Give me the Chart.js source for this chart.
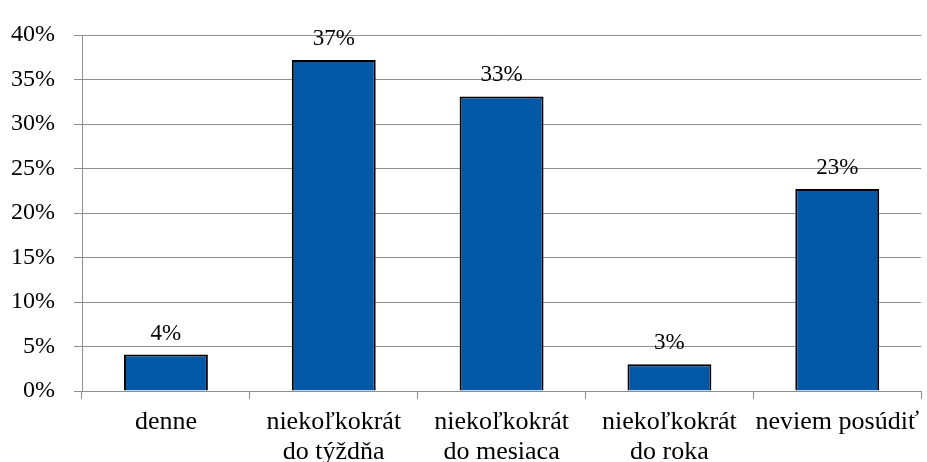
<!DOCTYPE html>
<html>
<head>
<meta charset="utf-8">
<script src="https://cdn.jsdelivr.net/npm/chart.js@4/dist/chart.umd.min.js"></script>
<style>
    html, body { margin: 0; padding: 0; background: #fff; }
    #wrap { width: 927px; height: 462px; }
</style>
</head>
<body>
<div id="wrap"><canvas id="graf" width="927" height="462"></canvas></div>
<script>
// kategorie a hodnoty (v %)
const kategorie = [
    'denne',
    ['niekoľkokrát', 'do týždňa'],
    ['niekoľkokrát', 'do mesiaca'],
    ['niekoľkokrát', 'do roka'],
    'neviem posúdiť'
];
const hodnoty = [4.1, 37.2, 33.1, 3.0, 22.7];
const popisky = ['4%', '37%', '33%', '3%', '23%'];
const osY = [0, 5, 10, 15, 20, 25, 30, 35, 40];

const pismo = "'Liberation Serif', 'Times New Roman', serif";
const siva = '#8e8e8e';

// popisky nad stlpcami
const popiskyPlugin = {
    id: 'popisky',
    afterDatasetsDraw(chart) {
        const ctx = chart.ctx;
        const meta = chart.getDatasetMeta(0);
        ctx.save();
        ctx.font = '23px ' + pismo;
        ctx.fillStyle = '#000';
        ctx.textAlign = 'center';
        ctx.textBaseline = 'alphabetic';
        meta.data.forEach((bar, i) => {
            ctx.fillText(popisky[i], bar.x, bar.y - 15);
        });
        ctx.restore();
    }
};

new Chart(document.getElementById('graf'), {
    type: 'bar',
    data: {
        labels: kategorie,
        datasets: [{
            data: hodnoty,
            backgroundColor: '#0458a8',
            borderColor: '#000',
            borderWidth: 2,
            barPercentage: 0.5,
            categoryPercentage: 1
        }]
    },
    options: {
        responsive: false,
        animation: false,
        layout: { padding: { top: 35, right: 0, left: 0, bottom: 0 } },
        plugins: {
            legend: { display: false },
            tooltip: { enabled: false }
        },
        scales: {
            x: {
                offset: true,
                grid: { drawOnChartArea: false, color: siva, tickLength: 8 },
                border: { color: siva },
                ticks: { color: '#000', font: { family: pismo, size: 26, lineHeight: '30px' }, padding: 8, maxRotation: 0, autoSkip: false },
                afterFit: s => { s.height = 71; }
            },
            y: {
                min: 0,
                max: 40,
                afterBuildTicks: s => { s.ticks = osY.map(v => ({ value: v })); },
                grid: { color: siva, tickLength: 8 },
                border: { color: siva },
                ticks: { color: '#000', font: { family: pismo, size: 24 }, padding: 19, callback: v => v + '%' },
                afterFit: s => { s.width = 82; }
            }
        }
    },
    plugins: [popiskyPlugin]
});
</script>
</body>
</html>
